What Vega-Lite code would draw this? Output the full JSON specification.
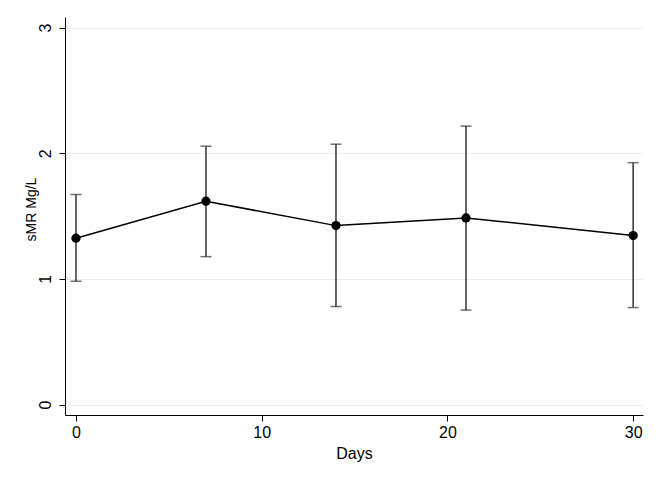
{
  "$schema": "https://vega.github.io/schema/vega-lite/v6.json",
  "width": 578,
  "height": 398,
  "autosize": {"type": "none"},
  "padding": {"left": 65, "top": 17, "right": 18, "bottom": 66},
  "background": "white",
  "config": {
    "view": {"stroke": null},
    "font": "Liberation Sans"
  },
  "data": {
    "values": [
      {"day": 0, "mean": 1.324, "lo": 0.982, "hi": 1.671},
      {"day": 7, "mean": 1.618, "lo": 1.177, "hi": 2.056},
      {"day": 14, "mean": 1.424, "lo": 0.780, "hi": 2.072},
      {"day": 21, "mean": 1.485, "lo": 0.752, "hi": 2.216},
      {"day": 30, "mean": 1.345, "lo": 0.772, "hi": 1.925}
    ]
  },
  "encoding": {
    "x": {
      "field": "day",
      "type": "quantitative",
      "scale": {"domain": [-0.59, 30.53], "nice": false, "zero": false},
      "axis": {
        "title": "Days",
        "values": [0, 10, 20, 30],
        "format": "d",
        "grid": false,
        "domainColor": "#000000",
        "tickColor": "#000000",
        "tickSize": 6,
        "labelFont": "Liberation Sans",
        "titleFont": "Liberation Sans",
        "labelFontSize": 16,
        "titleFontSize": 16,
        "labelColor": "#000000",
        "titleColor": "#000000",
        "titleFontWeight": "normal",
        "labelPadding": 3,
        "titlePadding": 5,
        "labelFlush": false
      }
    }
  },
  "layer": [
    {
      "mark": {"type": "rule", "color": "#333333", "strokeWidth": 1.5},
      "encoding": {
        "y": {
          "field": "lo",
          "type": "quantitative",
          "scale": {"domain": [-0.083, 3.084], "nice": false, "zero": false},
          "axis": {
            "title": "sMR Mg/L",
            "values": [0, 1, 2, 3],
            "format": "d",
            "grid": true,
            "gridColor": "#EAF0F2",
            "gridWidth": 1,
            "domainColor": "#000000",
            "tickColor": "#000000",
            "tickSize": 6,
            "labelFont": "Liberation Sans",
            "titleFont": "Liberation Sans",
            "labelFontSize": 16,
            "titleFontSize": 14,
            "labelColor": "#000000",
            "titleColor": "#000000",
            "titleFontWeight": "normal",
            "labelAngle": 270,
            "labelAlign": "center",
            "labelBaseline": "bottom",
            "labelPadding": 6,
            "titlePadding": -1,
            "titleY": 192,
            "titleAlign": "center"
          }
        },
        "y2": {"field": "hi"}
      }
    },
    {
      "mark": {"type": "tick", "orient": "horizontal", "color": "#333333", "size": 11, "thickness": 1.5},
      "encoding": {"y": {"field": "lo", "type": "quantitative"}}
    },
    {
      "mark": {"type": "tick", "orient": "horizontal", "color": "#333333", "size": 11, "thickness": 1.5},
      "encoding": {"y": {"field": "hi", "type": "quantitative"}}
    },
    {
      "mark": {"type": "line", "color": "#000000", "strokeWidth": 1.5},
      "encoding": {"y": {"field": "mean", "type": "quantitative"}}
    },
    {
      "mark": {"type": "point", "filled": true, "color": "#000000", "size": 85, "opacity": 1},
      "encoding": {"y": {"field": "mean", "type": "quantitative"}}
    }
  ]
}
